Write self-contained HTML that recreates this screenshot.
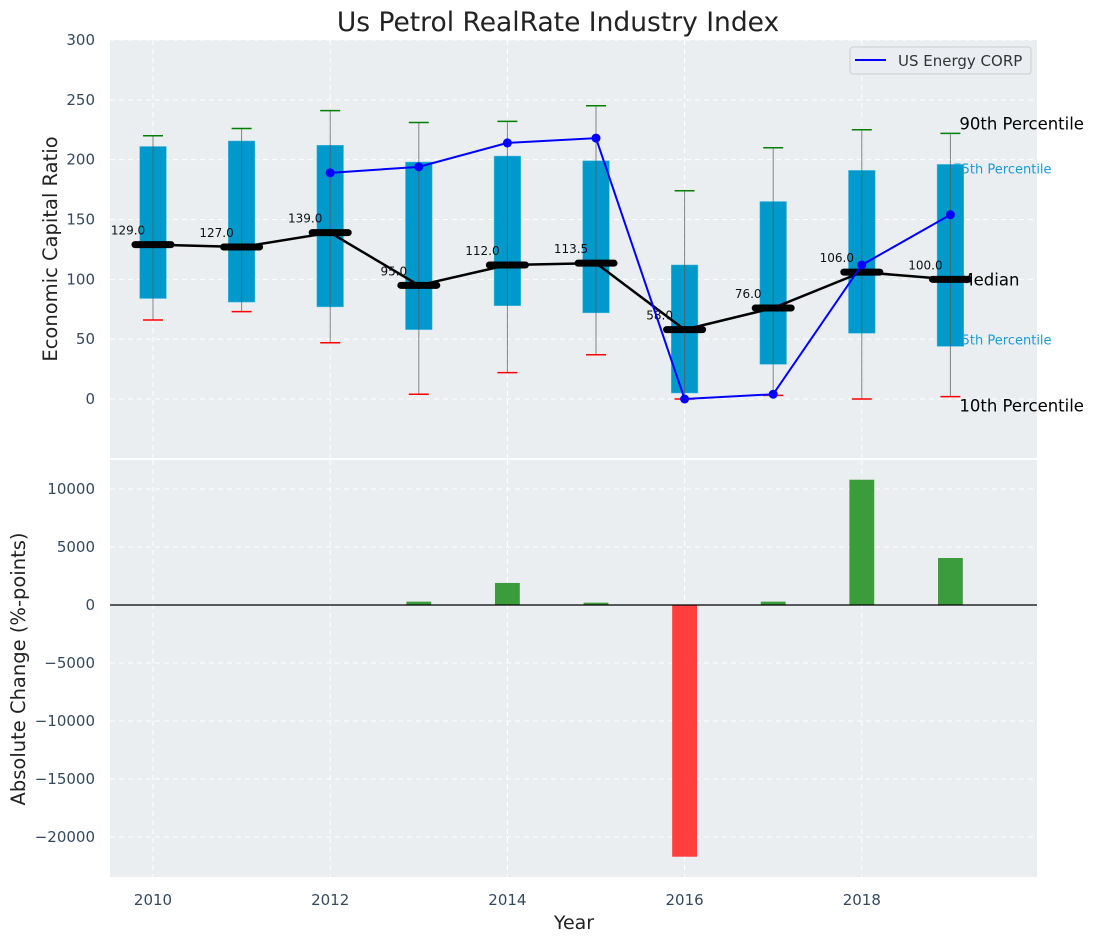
<!DOCTYPE html>
<html><head><meta charset="utf-8"><style>
body{margin:0;background:#fff;}
svg{display:block;font-family:"Liberation Sans","DejaVu Sans",sans-serif;}
.tick{fill:#34495e;font-size:15px;font-family:"DejaVu Sans","Liberation Sans",sans-serif;}
</style></head><body>
<svg id="chart" width="1095" height="942" viewBox="0 0 1095 942" xmlns="http://www.w3.org/2000/svg">
<text x="558" y="31" text-anchor="middle" font-size="26.5" fill="#222" font-family="DejaVu Sans, sans-serif">Us Petrol RealRate Industry Index</text>
<rect x="110" y="40" width="927" height="418" fill="#eaeef0"/>
<rect x="110" y="460" width="927" height="417" fill="#eaeef0"/>
<g id="topGrid"></g><g id="botGrid"></g>
<g id="topMarks"></g><g id="botMarks"></g>
<text transform="translate(57,249) rotate(-90)" text-anchor="middle" font-size="19.5" fill="#222" font-family="DejaVu Sans, sans-serif">Economic Capital Ratio</text>
<text transform="translate(25,669) rotate(-90)" text-anchor="middle" font-size="19.5" fill="#222" font-family="DejaVu Sans, sans-serif">Absolute Change (%-points)</text>
<text x="574" y="929" text-anchor="middle" font-size="19" fill="#222" font-family="DejaVu Sans, sans-serif">Year</text>
<g>
<rect x="850" y="47" width="181" height="27" rx="3" fill="#eaeef2" stroke="#ccc"/>
<line x1="855" y1="60" x2="886" y2="60" stroke="#0000ff" stroke-width="2"/>
<text x="898" y="66" font-size="15" fill="#333" font-family="DejaVu Sans, sans-serif">US Energy CORP</text>
</g>
</svg>
<script>
const years=[2010,2011,2012,2013,2014,2015,2016,2017,2018,2019];
const q3=[211,215.6,212,198,203,199,112,165,191,196];
const q1=[84,81,77,58,78,72,5,29,55,44];
const p90=[220,226,241,231,232,245,174,210,225,222];
const p10=[66,73,47,4,22,37,0,3,0,2];
const medians=[129,127,139,95,112,113.5,58,76,106,100];
const corpYears=[2012,2013,2014,2015,2016,2017,2018,2019];
const corpValues=[189,194,214,218,0,4,112,154];
const changes=[0,0,0,290,1900,200,-21700,290,10800,4050];
const topTicks=[0,50,100,150,200,250,300];
const botTicks=[-20000,-15000,-10000,-5000,0,5000,10000];
const xTicks=[2010,2012,2014,2016,2018];

const NS="http://www.w3.org/2000/svg";
const X=v=>153+(v-2010)*88.6;
const YT=v=>399-v*1.1967;
const YB=v=>605-v*0.0116;
function mk(parent,tag,attrs,text){const e=document.createElementNS(NS,tag);for(const k in attrs)e.setAttribute(k,attrs[k]);if(text!==undefined)e.textContent=text;document.getElementById(parent).appendChild(e);return e;}

topTicks.forEach(t=>{
 const l=mk('topGrid','line',{x1:110,x2:1037,y1:YT(t),y2:YT(t),stroke:'#fff','stroke-dasharray':'5,4','stroke-width':1});
 
 
 const tx=mk('topGrid','text',{x:95,y:YT(t)+5,'text-anchor':'end',class:'tick'},String(t));
 
 
});
botTicks.forEach(t=>{
 const l=mk('botGrid','line',{x1:110,x2:1037,y1:YB(t),y2:YB(t),stroke:'#fff','stroke-dasharray':'5,4','stroke-width':1});
 
 
 const tx=mk('botGrid','text',{x:95,y:YB(t)+5,'text-anchor':'end',class:'tick'},t<0?'\u2212'+Math.abs(t):String(t));
 
 
});
xTicks.forEach(t=>{
 [[40,458],[460,877]].forEach(r=>{
  const l=mk('topGrid','line',{x1:X(t),x2:X(t),y1:r[0],y2:r[1],stroke:'#fff','stroke-dasharray':'5,4','stroke-width':1});
  
  
 });
 const tx=mk('botGrid','text',{x:X(t),y:905,'text-anchor':'middle',class:'tick'},String(t));
 
 
});

const lastX=X(2019);
[['90th Percentile',YT(p90[9])-4,'#000',16.5],['75th Percentile',YT(q3[9])+9,'#1a9ad6',13],['Median',YT(medians[9])+6,'#000',16.5],['25th Percentile',YT(q1[9])-2,'#1a9ad6',13],['10th Percentile',YT(p10[9])+15,'#000',16.5]].forEach(a=>{
 const tx=mk('topMarks','text',{x:lastX+(a[3]===13?3:9),y:a[1],'font-size':a[3],fill:a[2],'font-family':'DejaVu Sans, sans-serif'},a[0]);
 
 
});

years.forEach((y,i)=>{
 const x=X(y),w=0.3*88.6;
 const b=mk('topMarks','rect',{x:x-w/2,y:YT(q3[i]),width:w,height:YT(q1[i])-YT(q3[i]),fill:'#0099cc',stroke:'#44bbe0','stroke-width':0.5});
 
 
 const wl=mk('topMarks','line',{x1:x,x2:x,y1:YT(p90[i]),y2:YT(p10[i]),stroke:'#555','stroke-opacity':0.7,'stroke-width':1});
 
 
 const c1=mk('topMarks','line',{x1:x-10,x2:x+10,y1:YT(p90[i]),y2:YT(p90[i]),stroke:'green','stroke-width':1.5});
 
 
 const c2=mk('topMarks','line',{x1:x-10,x2:x+10,y1:YT(p10[i]),y2:YT(p10[i]),stroke:'red','stroke-width':1.5});
 
 
});
const mp=mk('topMarks','polyline',{points:years.map((y,i)=>X(y)+','+YT(medians[i])).join(' '),fill:'none',stroke:'#000','stroke-width':2.5});


years.forEach((y,i)=>{
 const x=X(y);
 const m=mk('topMarks','line',{x1:x-18,x2:x+18,y1:YT(medians[i]),y2:YT(medians[i]),stroke:'#000','stroke-width':7,'stroke-linecap':'round'});
 
 
 const t=mk('topMarks','text',{x:x-25,y:YT(medians[i])-10,'text-anchor':'middle','font-size':12,fill:'#111','font-family':'DejaVu Sans, sans-serif'},medians[i].toFixed(1));
 
 
});
const cl=mk('topMarks','polyline',{points:corpYears.map((y,i)=>X(y)+','+YT(corpValues[i])).join(' '),fill:'none',stroke:'#0000ff','stroke-width':2});


corpYears.forEach((y,i)=>{
 const c=mk('topMarks','circle',{cx:X(y),cy:YT(corpValues[i]),r:4.5,fill:'#0000ff'});
 
 
});

years.forEach((y,i)=>{
 const v=changes[i]; if(v===0)return;
 const w=0.28*88.6;
 const r=mk('botMarks','rect',{x:X(y)-w/2,y:Math.min(YB(v),YB(0)),width:w,height:Math.abs(YB(v)-YB(0)),fill:v>0?'#3a9c3a':'#ff3e3e'});
 
 
});
const z=mk('botMarks','line',{x1:110,x2:1037,y1:YB(0),y2:YB(0),stroke:'#000','stroke-width':1.2});


</script>
</body></html>
